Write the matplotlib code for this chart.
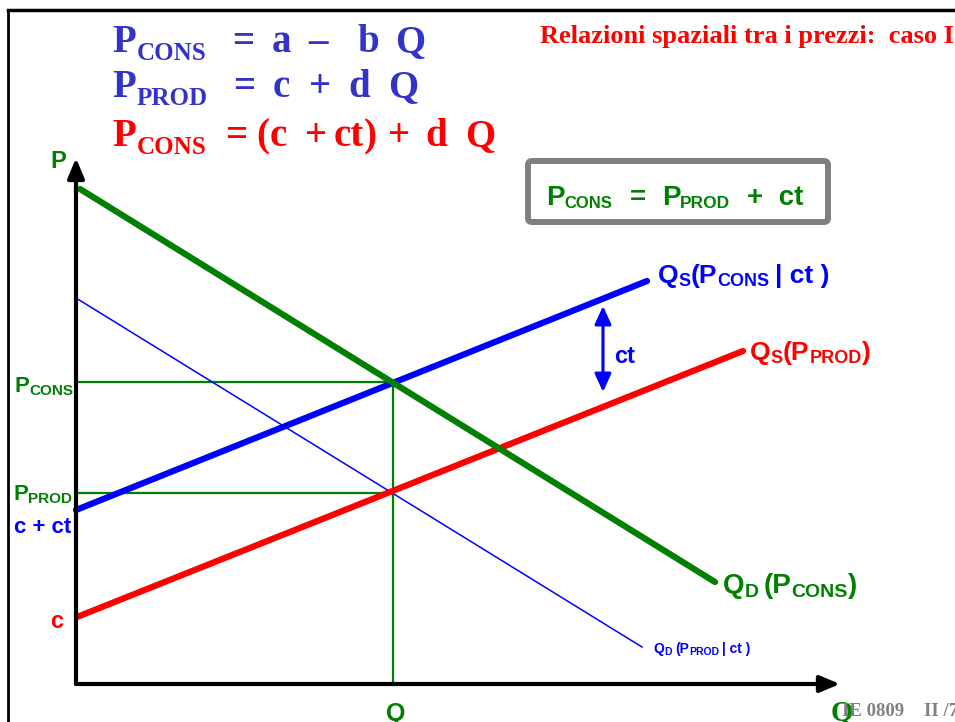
import matplotlib
matplotlib.use("Agg")
import matplotlib.pyplot as plt
from matplotlib.transforms import Affine2D
from matplotlib.patches import FancyBboxPatch
from matplotlib.lines import Line2D

# curve end points (Q, P), origin at the axes corner
demand_cons_q = [4, 639]
demand_cons_p = [495, 102]
demand_prod_q = [0, 566]
demand_prod_p = [386, 37]
supply_cons_q = [0, 571]
supply_cons_p = [174, 403]
supply_prod_q = [1, 667]
supply_prod_p = [67, 333]

# equilibrium
q_star = 317
p_cons = 302
p_prod = 191

# ct arrow
ct_q = 527
ct_p = [378, 292]

# axis extents
q_max = 764
p_max = 526

GREEN = "#008000"
BLUE = "#0000FF"
RED = "#FF0000"
EQ_BLUE = "#3333CC"
SERIF = "Liberation Serif"
SANS = "Liberation Sans"

fig = plt.figure(figsize=(9.55, 7.22), dpi=100)
ax = fig.add_axes([0, 0, 1, 1])
ax.set_xlim(-76, 879)
ax.set_ylim(-38, 684)
ax.axis("off")

# pixel coords, y down
px = Affine2D().scale(1 / 955, -1 / 722).translate(0, 1) + fig.transFigure
renderer = fig.canvas.get_renderer()

# slide frame
fig.add_artist(Line2D([8, 8], [10, 722], transform=px, color="black", lw=2))
fig.add_artist(Line2D([8, 955], [10, 10], transform=px, color="black", lw=2.5))

# guide lines
ax.plot([0, q_star], [p_cons, p_cons], color=GREEN, lw=1.6)
ax.plot([0, q_star], [p_prod, p_prod], color=GREEN, lw=1.6)
ax.plot([q_star, q_star], [0, p_cons], color=GREEN, lw=1.6)

# curves
ax.plot(demand_prod_q, demand_prod_p, color=BLUE, lw=1.1)
ax.plot(supply_prod_q, supply_prod_p, color=RED, lw=4.5, solid_capstyle="round")
ax.plot(supply_cons_q, supply_cons_p, color=BLUE, lw=4.5, solid_capstyle="round")
ax.plot(demand_cons_q, demand_cons_p, color=GREEN, lw=4.5, solid_capstyle="round")

# axes with arrows
axis_arrow = dict(arrowstyle="-|>,head_length=0.6,head_width=0.25", lw=3,
                  color="black", shrinkA=0, shrinkB=0, mutation_scale=20)
ax.annotate("", xy=(q_max, 0), xytext=(0, 0), arrowprops=axis_arrow)
ax.annotate("", xy=(0, p_max), xytext=(0, 0), arrowprops=axis_arrow)

# ct double arrow
ax.annotate("", xy=(ct_q, ct_p[1]), xytext=(ct_q, ct_p[0]),
            arrowprops=dict(arrowstyle="<|-|>,head_length=0.55,head_width=0.25", lw=2.2,
                            color=BLUE, shrinkA=0, shrinkB=0, mutation_scale=20))


def run(x, y, parts, color, family, **kw):
    # parts: (text, size, dy, gap)
    for txt, size, dy, gap in parts:
        x += gap
        t = fig.text(x, y + dy, txt, transform=px, fontsize=size, color=color,
                     family=family, weight="bold", ha="left", va="baseline", **kw)
        x = t.get_window_extent(renderer).x1


def tokens(y, items, color, size=28):
    # items: (text, x)
    for txt, x in items:
        fig.text(x, y, txt, transform=px, fontsize=size, color=color, family=SERIF,
                 weight="bold", ha="left", va="baseline")


# equations
tokens(52, [("P", 112), ("=", 232), ("a", 272), ("–", 308), ("b", 357), ("Q", 395)], EQ_BLUE)
tokens(60, [("CONS", 137)], EQ_BLUE, 18)
tokens(97, [("P", 112), ("=", 233), ("c", 273), ("+", 309), ("d", 348), ("Q", 388)], EQ_BLUE)
tokens(105, [("PROD", 137)], EQ_BLUE, 18)
tokens(146, [("P", 112), ("=", 225), ("(", 256), ("c", 270), ("+", 305), ("ct", 334), (")", 364),
             ("+", 388), ("d", 425), ("Q", 465)], RED)
tokens(154, [("CONS", 137)], RED, 18)

# title
fig.text(540, 43, "Relazioni spaziali tra i prezzi:  caso I", transform=px, fontsize=19,
         color=RED, family=SERIF, weight="bold", ha="left", va="baseline")

# box
box = FancyBboxPatch((528, 161), 300, 61, boxstyle="round,pad=0,rounding_size=4",
                     transform=px, fill=False, edgecolor="#808080", lw=4.3)
fig.add_artist(box)
run(546, 205, [("P", 20, 0, 0), ("CONS", 12, 3, 0), ("=", 20, 0, 17), ("P", 20, 0, 16),
               ("PROD", 12.5, 3, 0), ("+  ct", 20, 0, 17)], GREEN, SANS)

# axis labels
fig.text(50, 168, "P", transform=px, fontsize=17, color=GREEN, family=SANS,
         weight="bold", va="baseline")
fig.text(386, 721, "Q", transform=px, fontsize=18, color=GREEN, family=SANS,
         weight="bold", va="baseline")
fig.text(831, 721, "Q", transform=px, fontsize=21, color=GREEN, family=SERIF,
         weight="bold", va="baseline")

run(14, 392, [("P", 16, 0, 0), ("CONS", 11, 3, 0)], GREEN, SANS)
run(13, 500, [("P", 16, 0, 0), ("PROD", 11, 3, 0)], GREEN, SANS)
fig.text(14, 533, "c + ct", transform=px, fontsize=16, color=BLUE, family=SANS,
         weight="bold", va="baseline")
fig.text(50, 628, "c", transform=px, fontsize=17, color=RED, family=SANS,
         weight="bold", va="baseline")

# curve labels
run(658, 283, [("Q", 19, 0, 0), ("S", 13, 3, 0), ("(P", 19, 0, 0), ("CONS", 13, 3, 0),
               ("| ct )", 19, 0, 6)], BLUE, SANS)
run(750, 360, [("Q", 19, 0, 0), ("S", 13, 3, 0), ("(P", 19, 0, 0), ("PROD", 13, 3, 0),
               (")", 19, 0, 0)], RED, SANS)
fig.text(614, 363, "ct", transform=px, fontsize=17, color=BLUE, family=SANS,
         weight="bold", va="baseline")
run(723, 593, [("Q", 20, 0, 0), ("D", 14, 4, 0), ("(P", 20, 0, 5), ("CONS", 14, 4, 0),
               (")", 20, 0, 0)], GREEN, SANS)
run(653, 653, [("Q", 10, 0, 0), ("D", 7.5, 2, 0), ("(P", 10, 0, 4), ("PROD", 7.5, 2, 0),
               ("| ct )", 10, 0, 3)], BLUE, SANS)

# footer
fig.text(842, 716, "IE 0809", transform=px, fontsize=13.5, color="#808080", family=SERIF,
         weight="bold", va="baseline")
fig.text(924, 716, "II /7", transform=px, fontsize=13.5, color="#808080", family=SERIF,
         weight="bold", va="baseline")

fig.savefig("out.png", dpi=100)
